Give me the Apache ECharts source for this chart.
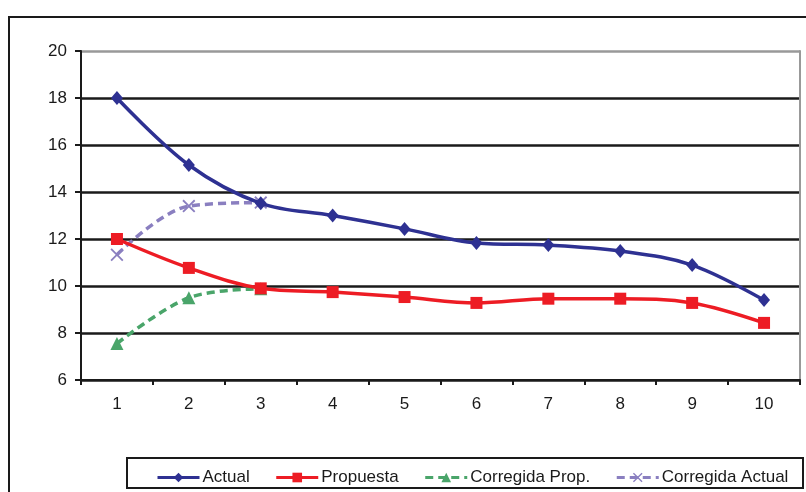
<!DOCTYPE html>
<html>
<head>
<meta charset="utf-8">
<script src="https://cdn.jsdelivr.net/npm/echarts@6/dist/echarts.min.js"></script>
<style>html,body{margin:0;padding:0;background:#fff}#c{width:806px;height:492px}</style>
</head>
<body>
<div id="c"></div>
<script>
var categories = ['1','2','3','4','5','6','7','8','9','10'];
var actual = [18.0, 15.15, 13.52, 13.0, 12.43, 11.83, 11.74, 11.49, 10.89, 9.4];
var propuesta = [12.0, 10.77, 9.9, 9.74, 9.53, 9.28, 9.46, 9.46, 9.28, 8.43];
var corregidaProp = [7.55, 9.5, 9.88, null, null, null, null, null, null, null];
var corregidaActual = [11.33, 13.4, 13.55, null, null, null, null, null, null, null];
var seriesNames = ['Actual', 'Propuesta', 'Corregida Prop.', 'Corregida Actual'];

var FONT = 'Liberation Sans, Arial, sans-serif';
var xPath = 'path://M0,1L1,0L5,4L9,0L10,1L6,5L10,9L9,10L5,6L1,10L0,9L4,5Z';

var chart = echarts.init(document.getElementById('c'), null, {renderer: 'canvas'});
chart.setOption({
  animation: false,
  backgroundColor: '#fff',
  textStyle: {fontFamily: FONT},
  graphic: [
    {type: 'rect', shape: {x: 9, y: 17, width: 820, height: 500}, style: {fill: 'none', stroke: '#1a1a1a', lineWidth: 2}, z: 0, silent: true},
    {type: 'rect', shape: {x: 127, y: 458, width: 676, height: 30}, style: {fill: '#fff', stroke: '#1a1a1a', lineWidth: 2}, z: 0, silent: true}
  ],
  grid: {left: 81, top: 51, right: 6, bottom: 112, containLabel: false},
  legend: {
    left: 151, top: 464,
    itemWidth: 42, itemHeight: 12, itemGap: 25,
    lineStyle: {width: 3},
    textStyle: {fontSize: 17, color: '#1a1a1a', fontFamily: FONT, padding: [0,0,0,-2]},
    data: seriesNames,
    z: 10
  },
  xAxis: {
    type: 'category',
    data: categories,
    boundaryGap: true,
    axisLine: {lineStyle: {color: '#1a1a1a', width: 2}},
    axisTick: {show: true, interval: 0, length: 5, lineStyle: {color: '#1a1a1a', width: 2}},
    axisLabel: {fontSize: 17, color: '#1a1a1a', margin: 16, fontFamily: FONT},
    splitLine: {show: false}
  },
  yAxis: [{
    type: 'value', min: 6, max: 20, interval: 2,
    axisLine: {show: true, lineStyle: {color: '#1a1a1a', width: 2}},
    axisTick: {show: true, length: 6, lineStyle: {color: '#1a1a1a', width: 2}},
    axisLabel: {fontSize: 17, color: '#1a1a1a', margin: 14, fontFamily: FONT},
    splitLine: {show: true, lineStyle: {color: ['#1a1a1a','#1a1a1a','#1a1a1a','#1a1a1a','#1a1a1a','#1a1a1a','#1a1a1a','#999999'], width: 2.5}}
  }, {
    type: 'value', min: 6, max: 20, interval: 2, position: 'right',
    axisLine: {show: true, lineStyle: {color: '#999999', width: 2}},
    axisTick: {show: false}, axisLabel: {show: false}, splitLine: {show: false}
  }],
  series: [
    {name: seriesNames[0], type: 'line', data: actual, smooth: 0.35, symbol: 'diamond', symbolSize: [12, 14],
     lineStyle: {color: '#2e3192', width: 3.5}, itemStyle: {color: '#2e3192'}, z: 5},
    {name: seriesNames[1], type: 'line', data: propuesta, smooth: 0.35, symbol: 'rect', symbolSize: 12,
     lineStyle: {color: '#ed1c24', width: 3.5}, itemStyle: {color: '#ed1c24'}, z: 4},
    {name: seriesNames[2], type: 'line', data: corregidaProp, smooth: 0.35, symbol: 'triangle', symbolSize: 13,
     lineStyle: {color: '#4aa56a', width: 3.5, type: [8, 5]}, itemStyle: {color: '#4aa56a'}, z: 3},
    {name: seriesNames[3], type: 'line', data: corregidaActual, smooth: 0.35, symbol: xPath, symbolSize: 13,
     lineStyle: {color: '#8a7fc0', width: 3.5, type: [8, 5]}, itemStyle: {color: '#8a7fc0'}, z: 3}
  ]
});
</script>
</body>
</html>
